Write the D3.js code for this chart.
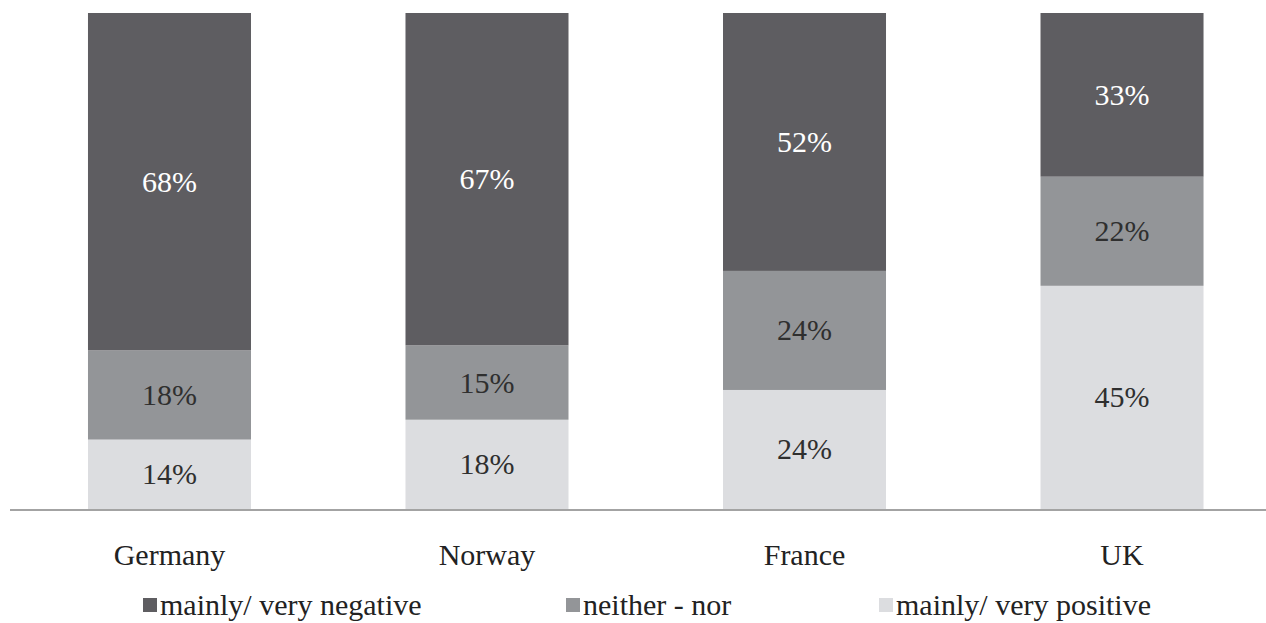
<!DOCTYPE html>
<html>
<head>
<meta charset="utf-8">
<script src="https://cdn.jsdelivr.net/npm/d3@7"></script>
</head>
<body style="margin:0">
<svg id="chart" width="1266" height="623"></svg>
<script>
// Survey shares per country (percent)
const countries = ["Germany", "Norway", "France", "UK"];
const negative  = [68, 67, 52, 33];
const neither   = [18, 15, 24, 22];
const positive  = [14, 18, 24, 45];

const seriesKeys   = ["positive", "neither", "negative"]; // stacked from the baseline up
const legendKeys   = ["negative", "neither", "positive"];
const legendLabels = ["mainly/ very negative", "neither - nor", "mainly/ very positive"];
const colors = { negative: "#5e5d61", neither: "#939598", positive: "#dcdde0" };
const textColors = { negative: "#ffffff", neither: "#2f2f2f", positive: "#2f2f2f" };
const fontFamily = '"Liberation Serif", "Times New Roman", serif';

// Apply the serif face to a text selection
function serifText(sel) {
  sel.style("font-family", fontFamily, "important")
     .style("font-size", "30px", "important");
}

const rows = countries.map((c, i) => ({
  country: c, negative: negative[i], neither: neither[i], positive: positive[i]
}));

const svg = d3.select("#chart").style("display", "block");

const x = d3.scaleBand()
  .domain(countries)
  .range([8.6, 1282.9])
  .paddingInner(0.4866)
  .paddingOuter(0.25);

const y = d3.scaleLinear().domain([0, 100]).range([509, 13]);

const stack = d3.stack().keys(seriesKeys)(rows);

const layers = svg.append("g").selectAll("g")
  .data(stack)
  .join("g")
  .attr("fill", d => colors[d.key]);

layers.selectAll("rect")
  .data(d => d.map(p => Object.assign(p, { key: d.key })))
  .join("rect")
  .attr("x", d => x(d.data.country))
  .attr("width", x.bandwidth())
  .attr("y", d => y(d[1]))
  .attr("height", d => y(d[0]) - y(d[1]));

// Value labels centred in each segment
svg.append("g").selectAll("text")
  .data(stack.flatMap(s => s))
  .join("text")
  .attr("x", d => x(d.data.country) + x.bandwidth() / 2)
  .attr("y", d => (y(d[0]) + y(d[1])) / 2 + 10)
  .attr("text-anchor", "middle")
  .attr("fill", d => textColors[d.key])
  .call(serifText)
  .text(d => (d[1] - d[0]) + "%");

// Baseline
svg.append("line")
  .attr("x1", 10).attr("x2", 1266)
  .attr("y1", y(0) + 1).attr("y2", y(0) + 1)
  .attr("stroke", "#a3a3a3")
  .attr("stroke-width", 2);

// Category axis
const xAxis = svg.append("g")
  .attr("transform", `translate(0,${y(0) + 2})`)
  .call(d3.axisBottom(x).tickSize(0).tickPadding(33));
xAxis.attr("font-family", null).attr("font-size", null);
xAxis.select(".domain").remove();
xAxis.selectAll("text")
  .attr("fill", "#222222")
  .call(serifText);

// Legend
const legendX = [143, 566, 879];
const legend = svg.append("g").selectAll("g")
  .data(legendKeys)
  .join("g")
  .attr("transform", (d, i) => `translate(${legendX[i]},0)`);

legend.append("rect")
  .attr("x", 0).attr("y", 598)
  .attr("width", 14).attr("height", 14)
  .attr("fill", d => colors[d]);

legend.append("text")
  .attr("x", 17).attr("y", 615)
  .attr("fill", "#222222")
  .call(serifText)
  .text((d, i) => legendLabels[i]);
</script>
</body>
</html>
